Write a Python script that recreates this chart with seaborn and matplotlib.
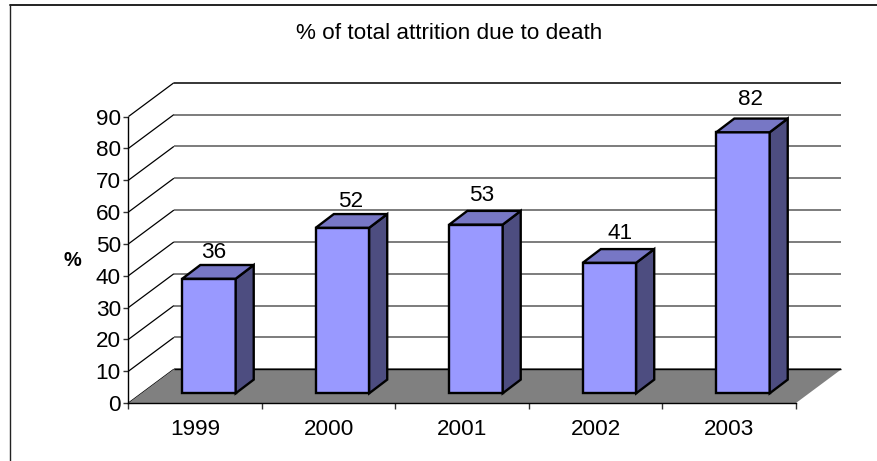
import matplotlib
matplotlib.use("Agg")
import matplotlib.pyplot as plt
from matplotlib.lines import Line2D
from matplotlib.patches import Polygon, Rectangle
import pandas as pd
import seaborn as sns

years = ["1999", "2000", "2001", "2002", "2003"]
attrition_pct = [36, 52, 53, 41, 82]
y_ticks = list(range(0, 100, 10))

# Hand placement of the value labels, in points (right, up)
label_nudge = [(-0.7, -2.9), (1.9, -2.9), (0.5, -1.4), (3.6, -0.7), (1.9, 1.4)]

FRONT = "#9999FF"
TOP = "#7777C5"
SIDE = "#4D4D80"
FLOOR = "#808080"
TEXT_SIZE = 16.2
EDGE_WIDTH = 1.7

W, H = 878, 461
sns.set_theme(style="white")
plt.rcParams["font.family"] = ["Liberation Sans", "DejaVu Sans"]

fig = plt.figure(figsize=(W / 100, H / 100), dpi=100)
x0, x1, y0, y90 = 128.5, 796.0, 403.0, 116.5
ax = fig.add_axes([x0 / W, 1 - y0 / H, (x1 - x0) / W, (y0 - y90) / H])

frame = pd.DataFrame({"year": years, "pct": attrition_pct})
sns.barplot(data=frame, x="year", y="pct", color=FRONT, saturation=1, width=0.4,
            ax=ax, zorder=5, edgecolor="black", linewidth=EDGE_WIDTH)
ax.set_xlim(-0.5, 4.5)
ax.set_ylim(0, 90)

# Oblique depth of the box, in category units and percentage points
depth_x, depth_y = 0.34, 10.6
base_dx, base_dy = 0.103, 3.05  # column footprint, set back from the floor's front edge
col_dx, col_dy = 0.135, 4.3     # depth of a column

# Back wall grid lines, with the diagonals running across the side wall
for v in y_ticks:
    wall = "#000000" if v == 90 else "#585858"
    ax.plot([-0.5 + depth_x, 4.5 + depth_x], [v + depth_y, v + depth_y],
            color=wall, lw=1.1, clip_on=False, zorder=1, solid_capstyle="butt")
    ax.plot([-0.5, -0.5 + depth_x], [v, v + depth_y],
            color="black", lw=0.9, clip_on=False, zorder=1, solid_capstyle="butt")

# Floor
ax.add_patch(Polygon([(-0.5, 0), (4.5, 0), (4.5 + depth_x, depth_y), (-0.5 + depth_x, depth_y)],
                     closed=True, facecolor=FLOOR, edgecolor="none", clip_on=False, zorder=2))
ax.plot([-0.5 + depth_x, 4.5 + depth_x], [depth_y, depth_y], color="black", lw=1.0,
        clip_on=False, zorder=3, solid_capstyle="butt")

# Turn each flat bar into a box standing on the floor
for bar, value, nudge in zip(ax.patches, attrition_pct, label_nudge):
    left = bar.get_x() + base_dx
    right = left + bar.get_width()
    top = base_dy + value
    bar.set_x(left)
    bar.set_y(base_dy)
    bar.set_height(value)
    bar.set_clip_on(False)
    ax.add_patch(Polygon([(right, base_dy), (right + col_dx, base_dy + col_dy),
                          (right + col_dx, top + col_dy), (right, top)],
                         closed=True, facecolor=SIDE, edgecolor="black", lw=EDGE_WIDTH,
                         clip_on=False, zorder=5, joinstyle="miter"))
    ax.add_patch(Polygon([(left, top), (left + col_dx, top + col_dy),
                          (right + col_dx, top + col_dy), (right, top)],
                         closed=True, facecolor=TOP, edgecolor="black", lw=EDGE_WIDTH,
                         clip_on=False, zorder=5, joinstyle="miter"))
    ax.annotate(str(value), xy=((left + right) / 2 + 0.04, top + col_dy + 2.0),
                xytext=nudge, textcoords="offset points", ha="center", va="bottom",
                fontsize=TEXT_SIZE, color="black", zorder=6, annotation_clip=False)

# Axes
for side in ("top", "right"):
    ax.spines[side].set_visible(False)
for side in ("left", "bottom"):
    ax.spines[side].set_color("black")
    ax.spines[side].set_linewidth(1.0)
    ax.spines[side].set_zorder(4)
ax.set_yticks(y_ticks)
ax.set_xticks([i - 0.5 for i in range(6)])
ax.set_xticklabels([])
ax.set_xticks(range(5), labels=years, minor=True)
ax.tick_params(axis="x", which="major", length=4, width=1, color="#333333", bottom=True)
ax.tick_params(axis="x", which="minor", length=0, labelsize=TEXT_SIZE, labelcolor="black", pad=11.5, bottom=True)
ax.tick_params(axis="y", length=3.5, width=1, color="#333333", labelsize=TEXT_SIZE, labelcolor="black", pad=2, left=True)
ax.set_xlabel("")
ax.set_ylabel("")

fig.text(72 / W, 1 - 260.7 / H, "%", ha="center", va="center", fontsize=14.4, fontweight="bold", color="black")
fig.text(449.5 / W, 1 - 33 / H, "% of total attrition due to death", ha="center", va="center",
         fontsize=TEXT_SIZE, color="black")

# Chart border: only its top and left edges fall inside the canvas
fig.add_artist(Line2D([10.5 / W, 10.5 / W], [0, 1 - 5.5 / H], transform=fig.transFigure,
                      color="#222222", lw=1.0))
fig.add_artist(Line2D([10.5 / W, 1], [1 - 5.5 / H, 1 - 5.5 / H], transform=fig.transFigure,
                      color="#222222", lw=1.4))

fig.savefig("out.png", dpi=100, facecolor="white")
